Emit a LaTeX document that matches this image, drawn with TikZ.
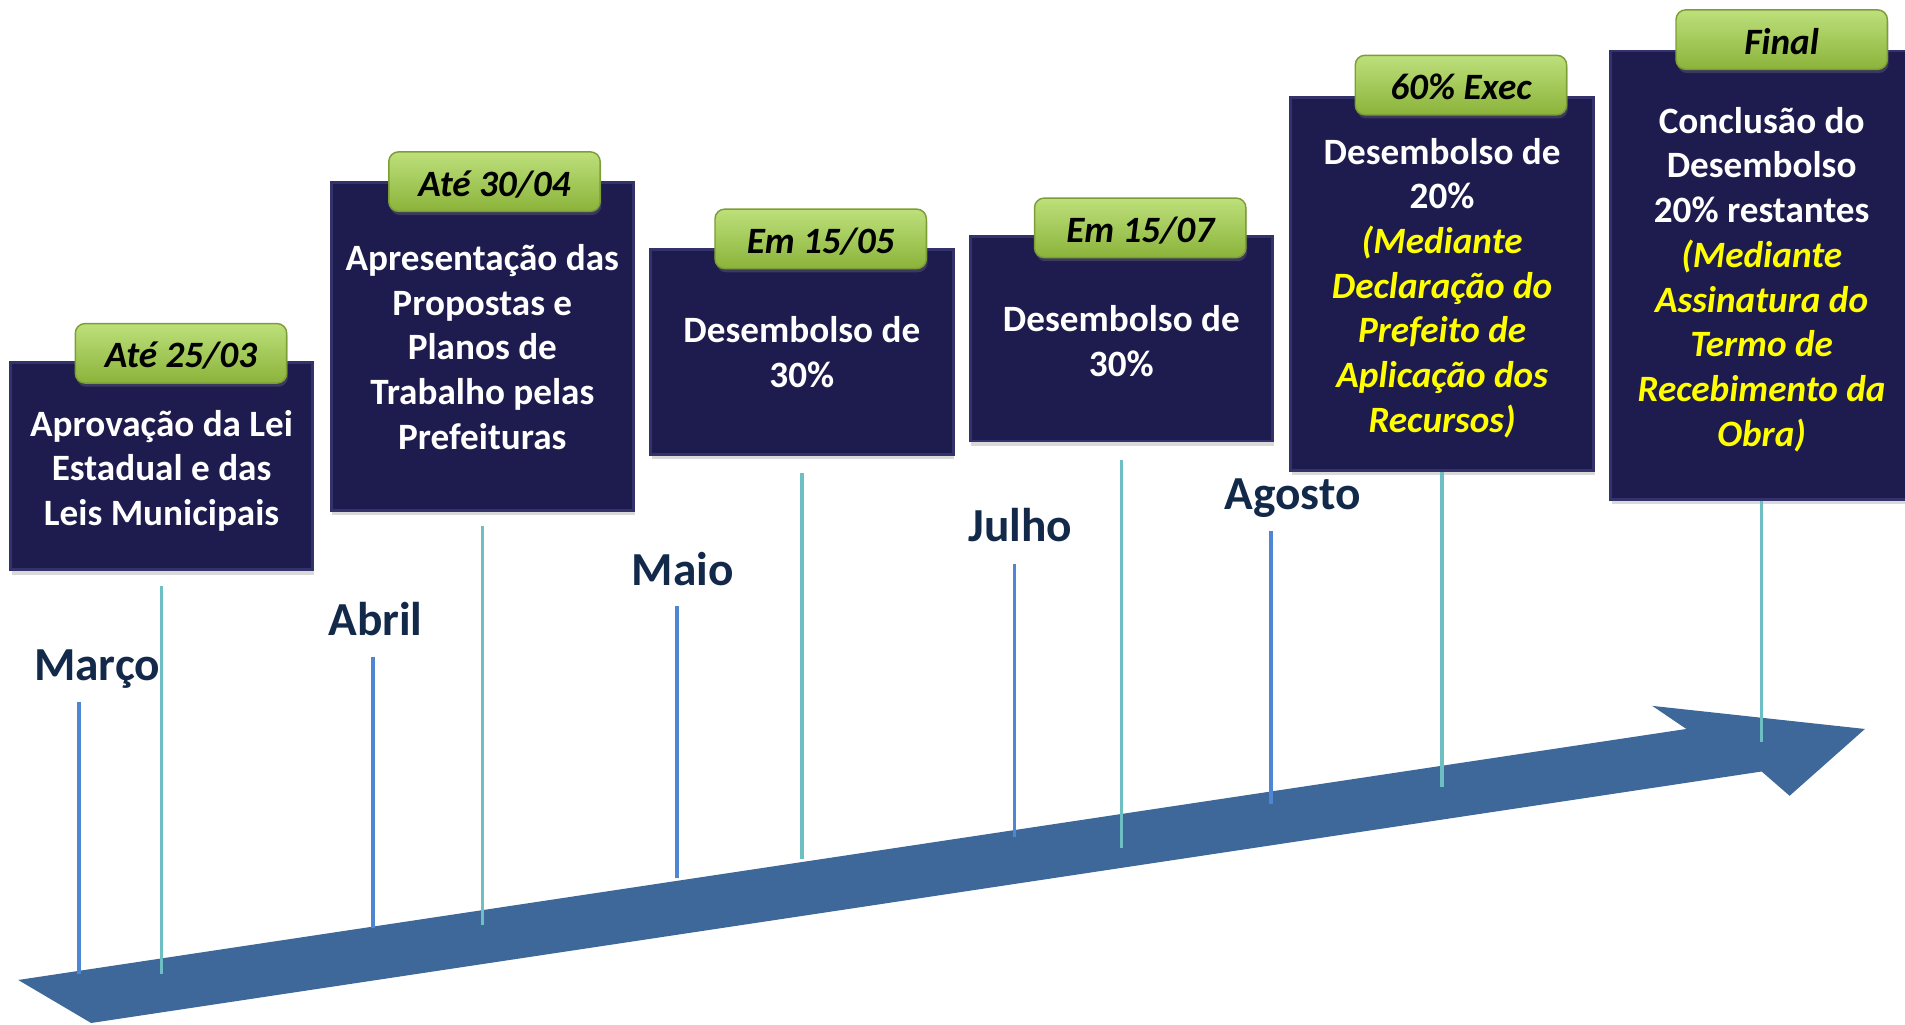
\documentclass[tikz,border=0pt]{standalone}
\usepackage{fontspec}
\setmainfont{Carlito}
\usetikzlibrary{shadows}
\definecolor{boxblue}{HTML}{1E1B4E}
\definecolor{boxedge}{HTML}{34326A}
\definecolor{tabtop}{HTML}{BDE07B}
\definecolor{tabbot}{HTML}{8BB33A}
\definecolor{tabedge}{HTML}{7D9E36}
\definecolor{arrowblue}{HTML}{3D6899}
\definecolor{monthblue}{HTML}{4F86D3}
\definecolor{boxteal}{HTML}{6DBFC3}
\definecolor{monthtext}{HTML}{13294A}
\definecolor{noteyellow}{HTML}{FFFF00}
\newcommand{\yl}[1]{{\color{noteyellow}\itshape #1}}

\begin{document}
\begin{tikzpicture}[x=0.5pt, y=-0.5pt,
	stage/.style={draw=boxedge, line width=1.2pt, fill=boxblue, minimum width=124.5pt, inner sep=0pt, drop shadow={shadow xshift=0.5pt, shadow yshift=-2pt, opacity=0.3}},
	datetab/.style={draw=tabedge, line width=0.6pt, rounded corners=4pt, top color=tabtop, bottom color=tabbot, minimum width=87pt, minimum height=24.5pt, inner sep=0pt, text height=12pt, text depth=0pt, font=\fontsize{15.3}{18.4}\selectfont\bfseries\itshape, drop shadow={shadow xshift=0.5pt, shadow yshift=-1.5pt, opacity=0.3}},
	stagetext/.style={text=white, align=center, inner sep=0pt, font=\fontsize{15.3}{18.4}\selectfont\bfseries},
	month/.style={text=monthtext, anchor=base, inner sep=0pt, font=\fontsize{19.5}{22}\selectfont\bfseries},
	monthline/.style={monthblue, line width=1.5pt},
	stageline/.style={boxteal, line width=1.5pt}]
		\clip (0,0) rectangle (1568,843);
		%arrow
		\fill [arrowblue] (15,806.6) -- (1388,600) -- (1360,581) -- (1535,600) -- (1473,655) -- (1450,635) -- (75,842) -- cycle;
		%ends on the arrow
		\coordinate (m1b) at (65,801.6); \coordinate (m2b) at (307,764); \coordinate (m3b) at (557,723);
		\coordinate (m4b) at (835,689); \coordinate (m5b) at (1046,662);
		\coordinate (e1) at (133,802); \coordinate (e2) at (397,761); \coordinate (e3) at (660,707);
		\coordinate (e4) at (923,698); \coordinate (e5) at (1187,648); \coordinate (e6) at (1450,610.5);
		%months
		\node [month] (m1) at (80,560) {Março};
		\node [month] (m2) at (309,523) {Abril};
		\node [month] (m3) at (562,481.5) {Maio};
		\node [month] (m4) at (840,446) {Julho};
		\node [month] (m5) at (1064,419) {Agosto};
		\coordinate (m1a) at (65,577.5); \coordinate (m2a) at (307,540.5); \coordinate (m3a) at (557,498.7);
		\coordinate (m4a) at (835,464.5); \coordinate (m5a) at (1046,437);
		\draw [monthline] (m1a) -- (m1b); \draw [monthline] (m2a) -- (m2b); \draw [monthline] (m3a) -- (m3b);
		\draw [monthline] (m4a) -- (m4b); \draw [monthline] (m5a) -- (m5b);
		%boxes
		\node [stage, minimum height=85.5pt] (b1) at (133,383.5) {};
		\node [stage, minimum height=135pt] (b2) at (397,285) {};
		\node [stage, minimum height=84.5pt] (b3) at (660,289.5) {};
		\node [stage, minimum height=84pt] (b4) at (923,279) {};
		\node [stage, minimum height=153.5pt] (b5) at (1187,233.5) {};
		\node [stage, minimum height=184.5pt] (b6) at (1450,226.5) {};
		\draw [stageline, shorten <=6pt] (b1.south) -- (e1); \draw [stageline, shorten <=6pt] (b2.south) -- (e2);
		\draw [stageline, shorten <=7pt] (b3.south) -- (e3); \draw [stageline, shorten <=7pt] (b4.south) -- (e4);
		\draw [stageline] (b5.south) -- (e5); \draw [stageline] (b6.south) -- (e6);
		%tabs
		\node [datetab] (t1) at (149,290.8) {Até 25/03};
		\node [datetab] (t2) at (407,149.5) {Até 30/04};
		\node [datetab] (t3) at (675.5,196.6) {Em 15/05};
		\node [datetab] (t4) at (938.5,187.5) {Em 15/07};
		\node [datetab] (t5) at (1202.5,70) {60\% Exec};
		\node [datetab] (t6) at (1466.5,32.6) {Final};
		%texts
		\node [stagetext] (c1) at (133,387.5) {Aprovação da Lei\\Estadual e das\\Leis Municipais};
		\node [stagetext] (c2) at (397,285.6) {Apresentação das\\Propostas e\\Planos de\\Trabalho pelas\\Prefeituras};
		\node [stagetext] (c3) at (660,289.8) {Desembolso de\\30\%};
		\node [stagetext] (c4) at (923,281) {Desembolso de\\30\%};
		\node [stagetext] (c5) at (1187,237) {Desembolso de\\20\%\\\yl{(Mediante}\\\yl{Declaração do}\\\yl{Prefeito de}\\\yl{Aplicação dos}\\\yl{Recursos)}};
		\node [stagetext] (c6) at (1450,230) {Conclusão do\\Desembolso\\20\% restantes\\\yl{(Mediante}\\\yl{Assinatura do}\\\yl{Termo de}\\\yl{Recebimento da}\\\yl{Obra)}};
\end{tikzpicture}
\end{document}
